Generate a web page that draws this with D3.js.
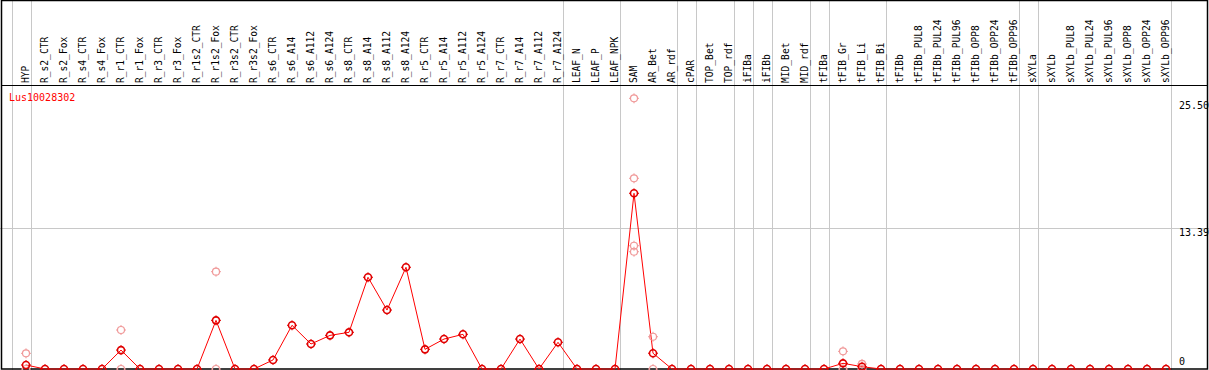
<!DOCTYPE html>
<html>
<head>
<meta charset="utf-8">
<script src="https://cdn.jsdelivr.net/npm/d3@7"></script>
<style>
  body { margin: 0; background: #fff; }
  svg { display: block; font-family: "DejaVu Sans Mono", monospace; }
</style>
</head>
<body>
<svg id="chart" width="1209" height="370"></svg>
<script>
const samples = [
  "HYP", "R_s2_CTR", "R_s2_Fox", "R_s4_CTR", "R_s4_Fox", "R_r1_CTR", "R_r1_Fox",
  "R_r3_CTR", "R_r3_Fox", "R_r1s2_CTR", "R_r1s2_Fox", "R_r3s2_CTR", "R_r3s2_Fox",
  "R_s6_CTR", "R_s6_A14", "R_s6_A112", "R_s6_A124", "R_s8_CTR", "R_s8_A14",
  "R_s8_A112", "R_s8_A124", "R_r5_CTR", "R_r5_A14", "R_r5_A112", "R_r5_A124",
  "R_r7_CTR", "R_r7_A14", "R_r7_A112", "R_r7_A124", "LEAF_N", "LEAF_P", "LEAF_NPK",
  "SAM", "AR_Bet", "AR_rdf", "cPAR", "TOP_Bet", "TOP_rdf", "iFIBa", "iFIBb",
  "MID_Bet", "MID_rdf", "tFIBa", "tFIB_Gr", "tFIB_Li", "tFIB_Bi", "tFIBb",
  "tFIBb_PUL8", "tFIBb_PUL24", "tFIBb_PUL96", "tFIBb_OPP8", "tFIBb_OPP24", "tFIBb_OPP96",
  "sXYLa", "sXYLb", "sXYLb_PUL8", "sXYLb_PUL24", "sXYLb_PUL96", "sXYLb_OPP8",
  "sXYLb_OPP24", "sXYLb_OPP96"
];

const meanValues = [
  0.38, 0, 0, 0, 0, 1.80, 0,
  0, 0, 0, 4.63, 0, 0,
  0.86, 4.16, 2.38, 3.20, 3.49, 8.73,
  5.61, 9.68, 1.87, 2.85, 3.30, 0,
  0, 2.85, 0, 2.54, 0, 0, 0,
  16.72, 1.50, 0, 0, 0, 0, 0, 0,
  0, 0, 0, 0.54, 0.22, 0, 0,
  0, 0, 0, 0, 0, 0,
  0, 0, 0, 0, 0, 0,
  0, 0
];

// replicate measurements that show apart from the mean
const replicates = [
  ["HYP", 1.49], ["HYP", 0],
  ["R_r1_CTR", 3.71], ["R_r1_CTR", 0],
  ["R_r1s2_Fox", 9.26], ["R_r1s2_Fox", 0],
  ["SAM", 25.76], ["SAM", 18.15], ["SAM", 11.73], ["SAM", 11.16],
  ["AR_Bet", 3.07], ["AR_Bet", 0],
  ["tFIB_Gr", 1.68], ["tFIB_Gr", 0],
  ["tFIB_Li", 0.48], ["tFIB_Li", 0]
];

// a grey separator is drawn after each of these samples ("" = before the first)
const groupEnds = [
  "", "HYP", "R_r7_A124", "LEAF_NPK", "AR_rdf", "cPAR", "TOP_rdf", "iFIBa", "iFIBb",
  "MID_rdf", "tFIBa", "tFIB_Bi", "tFIBb_OPP96", "sXYLa", "sXYLb_OPP96"
];

const yTicks = [0, 13.39, 25.50];
const gridValues = [13.39];
const geneName = "Lus10028302";

const svg = d3.select("#chart");
const width = +svg.attr("width");
const height = +svg.attr("height");
const headerBottom = 85.5;

const x = d3.scalePoint()
  .domain(samples)
  .range([26, 1166]);

const y = d3.scaleLinear()
  .domain([0, 13.39])
  .range([369, 228.3]);

const sepX = name => name === "" ? x(samples[0]) - x.step() + 4.7 : x(name) + 4.7;

// separators
svg.append("g")
  .selectAll("line")
  .data(groupEnds)
  .enter().append("line")
  .attr("x1", d => Math.round(sepX(d)) + 0.5)
  .attr("x2", d => Math.round(sepX(d)) + 0.5)
  .attr("y1", 0)
  .attr("y2", height)
  .attr("stroke", "#c8c8c8")
  .attr("stroke-width", 1);

svg.append("g")
  .selectAll("line")
  .data(gridValues)
  .enter().append("line")
  .attr("x1", 0)
  .attr("x2", width)
  .attr("y1", d => Math.round(y(d)) + 0.5)
  .attr("y2", d => Math.round(y(d)) + 0.5)
  .attr("stroke", "#c8c8c8");

// frame
svg.append("rect")
  .attr("x", 1.5).attr("y", 0.5)
  .attr("width", width - 3).attr("height", height - 1.5)
  .attr("fill", "none")
  .attr("stroke", "#000")
  .attr("stroke-width", 1.5);

svg.append("line")
  .attr("x1", 1).attr("x2", width - 1)
  .attr("y1", headerBottom).attr("y2", headerBottom)
  .attr("stroke", "#000");

// column labels
svg.append("g")
  .selectAll("text")
  .data(samples)
  .enter().append("text")
  .attr("transform", d => `translate(${x(d) + 3},83) rotate(-90)`)
  .style("font-size", "9.6px")
  .attr("fill", "#000")
  .text(d => d);

// right axis
const axis = d3.axisRight(y)
  .tickValues(yTicks)
  .tickSize(0)
  .tickPadding(0)
  .tickFormat(d => d === 0 ? "0" : d3.format(".2f")(d));

const axisG = svg.append("g")
  .attr("transform", "translate(1179,0)")
  .call(axis);
axisG.select(".domain").remove();
axisG.selectAll("text")
  .attr("font-family", "DejaVu Sans Mono, monospace")
  .style("font-size", "10px")
  .attr("fill", "#000")
  .attr("dy", d => d === 0 ? "-0.45em" : "0.75em");

// gene name
svg.append("text")
  .attr("x", 9)
  .attr("y", 101)
  .style("font-size", "10px")
  .attr("fill", "#ff0000")
  .text(geneName);

const plot = svg.append("g");

const line = d3.line()
  .x((d, i) => x(samples[i]))
  .y(d => y(d));

plot.append("path")
  .datum(meanValues)
  .attr("d", line)
  .attr("fill", "none")
  .attr("stroke", "#ff0000")
  .attr("stroke-width", 1);

const ticks = r => `M0,${-r - 1.5}V${-r + 0.5}M0,${r - 0.5}V${r + 1.5}M${-r - 1.5},0H${-r + 0.5}M${r - 0.5},0H${r + 1.5}`;

function marker(sel, color, r, sw) {
  sel.append("circle")
    .attr("r", r)
    .attr("fill", "none")
    .attr("stroke", color)
    .attr("stroke-width", sw);
  sel.append("path")
    .attr("d", ticks(r))
    .attr("stroke", color)
    .attr("stroke-width", 1);
}

plot.append("g")
  .selectAll("g")
  .data(replicates)
  .enter().append("g")
  .attr("transform", d => `translate(${x(d[0])},${y(d[1])})`)
  .call(marker, "#f09a9a", 3.5, 1.2);

plot.append("g")
  .selectAll("g")
  .data(meanValues)
  .enter().append("g")
  .attr("transform", (d, i) => `translate(${x(samples[i])},${y(d)})`)
  .call(marker, "#e00000", 3.5, 1.6);
</script>
</body>
</html>
